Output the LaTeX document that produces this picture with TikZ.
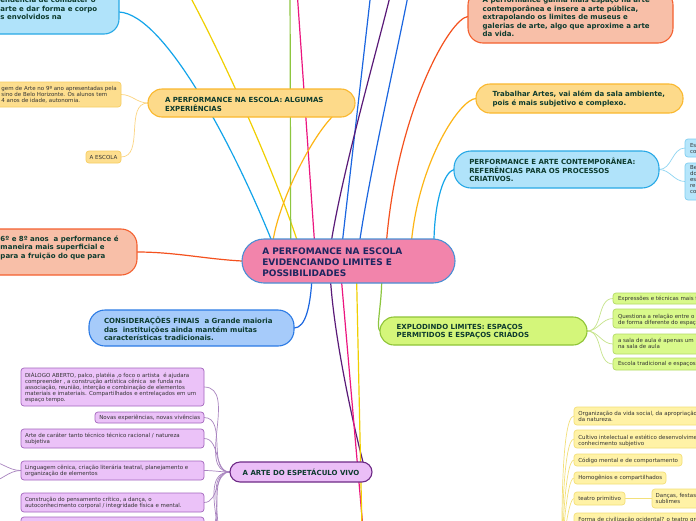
\documentclass[tikz,border=0pt]{standalone}
\usepackage{fontspec}
\setmainfont{DejaVu Sans}
\usetikzlibrary{backgrounds}
\definecolor{cyF}{HTML}{B0E3FA}\definecolor{cyD}{HTML}{28A9E6}
\definecolor{orF}{HTML}{FDDA8A}\definecolor{orD}{HTML}{FAB82E}
\definecolor{orsF}{HTML}{FDDE8E}\definecolor{orsD}{HTML}{F7CE63}
\definecolor{saF}{HTML}{F8BFA8}\definecolor{saD}{HTML}{F4602F}
\definecolor{blF}{HTML}{A6CBFA}\definecolor{blD}{HTML}{2C7BE5}
\definecolor{ceF}{HTML}{F284AB}\definecolor{ceD}{HTML}{4A8FD5}
\definecolor{grF}{HTML}{D4F67A}\definecolor{grD}{HTML}{8FC437}
\definecolor{grsF}{HTML}{D9F98B}\definecolor{grsD}{HTML}{B3DA65}
\definecolor{cysF}{HTML}{B6E6FB}\definecolor{cysD}{HTML}{7FCDF0}
\definecolor{puF}{HTML}{EBBEF7}\definecolor{puD}{HTML}{6E2A86}
\definecolor{pusF}{HTML}{EBC2F8}\definecolor{pusD}{HTML}{A366BD}
\definecolor{yeF}{HTML}{FFF2A6}\definecolor{yeD}{HTML}{F3DF78}
\definecolor{lCy}{HTML}{12A4EA}\definecolor{lYe}{HTML}{F0CF00}
\definecolor{lGr}{HTML}{8DC63F}\definecolor{lMa}{HTML}{EC167F}
\definecolor{lBl}{HTML}{1B66E0}\definecolor{lPu}{HTML}{5A1A78}
\definecolor{lRe}{HTML}{F4511E}\definecolor{lOr}{HTML}{FDB515}
\definecolor{lOrs}{HTML}{FCD582}\definecolor{lGrs}{HTML}{C6E48A}
\definecolor{lCys}{HTML}{8ED5F2}\definecolor{lPus}{HTML}{A985C0}
\definecolor{lYes}{HTML}{F3E07A}
\definecolor{tGr}{HTML}{0D3B2E}\definecolor{tNa}{HTML}{1D2660}
\definecolor{tSm}{HTML}{333333}
\newcommand{\mmC}{\fontsize{9}{11}\selectfont\bfseries}
\newcommand{\mmB}{\fontsize{7}{8.5}\selectfont\bfseries}
\newcommand{\mmS}{\fontsize{5.5}{6.1}\selectfont}
\tikzset{
  box/.style={inner sep=0pt, outer sep=0pt, line width=1.1pt},
  sbox/.style={inner sep=0pt, outer sep=0pt, line width=0.7pt, rounded corners=3pt},
  tx/.style={inner sep=0pt, outer sep=0pt, align=left, anchor=west},
  btx/.style={tx, font=\mmB, text=tGr},
  stx/.style={tx, font=\mmS, text=tSm},
  link/.style={line width=1.2pt},
  slink/.style={line width=0.7pt},
}
\begin{document}
\begin{tikzpicture}[x=1pt,y=-1pt]
\useasboundingbox (0,0) rectangle (696,520);
\begin{pgfonlayer}{background}
\fill[white] (0,0) rectangle (696,520);
\end{pgfonlayer}
\clip (0,0) rectangle (696,520);

% ---------- main boxes
\node[box, fill=cyF, draw=cyD, rounded corners=15pt, minimum width=135pt, minimum height=51pt] (tl) at (51.5,8.5) {};
\node[btx] (tlT) at (0.5,8.3) {endência de combater o\\arte e dar forma e corpo\\s envolvidos na};

\node[box, fill=orF, draw=orD, rounded corners=14pt, minimum width=207pt, minimum height=28pt] (alg) at (251.5,103) {};
\node[btx] (algT) at (165,104.2) {A PERFORMANCE NA ESCOLA: ALGUMAS\\EXPERIÊNCIAS};

\node[sbox, fill=orsF, draw=orsD, minimum width=131pt, minimum height=25pt] (gem) at (55.5,94.5) {};
\node[stx] (gemT) at (1.5,95) {gem de Arte no 9º ano apresentadas pela\\sino de Belo Horizonte. Os alunos tem\\4 anos de idade, autonomia.};
\node[sbox, fill=orsF, draw=orsD, minimum width=35pt, minimum height=12pt] (esc) at (103.5,157) {};
\node[stx, anchor=center] (escT) at (103.5,157) {A ESCOLA};

\node[box, fill=saF, draw=saD, rounded corners=16pt, minimum width=157pt, minimum height=46pt] (sal) at (58.5,252) {};
\node[btx] (salT) at (0.5,247.5) {6º e 8º anos\ \ a performance é\\maneira mais superficial e\\para a fruição do que para};

\node[box, fill=blF, draw=blD, rounded corners=16pt, minimum width=205pt, minimum height=36pt] (con) at (191.5,328) {};
\node[btx] (conT) at (104,329) {CONSIDERAÇÕES FINAIS\ \ a Grande maioria\\das\ \ instituições ainda mantém muitas\\características tradicionais.};

\node[box, fill=ceF, draw=ceD, rounded corners=22pt, minimum width=213pt, minimum height=44pt] (cen) at (348.5,261) {};
\node[tx, font=\mmC, text=tNa] (cenT) at (262.3,261.9) {A PERFOMANCE NA ESCOLA\\EVIDENCIANDO LIMITES E\\POSSIBILIDADES};

\node[box, fill=puF, draw=puD, rounded corners=10pt, minimum width=142pt, minimum height=20pt] (arte) at (301,472) {};
\node[btx, anchor=center] (arteT) at (301,472.3) {A ARTE DO ESPETÁCULO VIVO};

\node[box, fill=grF, draw=grD, rounded corners=14pt, minimum width=207pt, minimum height=28pt] (exp) at (483.5,331) {};
\node[btx] (expT) at (396.7,331.7) {EXPLODINDO LIMITES: ESPAÇOS\\PERMITIDOS E ESPAÇOS CRIADOS};

\node[box, fill=cyF, draw=cyD, rounded corners=17pt, minimum width=205pt, minimum height=37pt] (pac) at (556.5,169.5) {};
\node[btx] (pacT) at (469.3,170) {PERFORMANCE E ARTE CONTEMPORÂNEA:\\REFERÊNCIAS PARA OS PROCESSOS\\CRIATIVOS.};

\node[box, fill=orF, draw=orD, rounded corners=14pt, minimum width=207pt, minimum height=29pt] (trab) at (579.5,98.5) {};
\node[btx] (trabT) at (492.7,99) {Trabalhar Artes, vai além da sala ambiente,\\pois é mais subjetivo e complexo.};

\node[box, fill=saF, draw=saD, rounded corners=15pt, minimum width=205pt, minimum height=53pt] (gan) at (570.5,16.5) {};
\node[btx] (ganT) at (482.7,17.1) {A performance ganha mais espaço na arte\\contemporânea e insere a arte pública,\\extrapolando os limites de museus e\\galerias de arte, algo que aproxime a arte\\da vida.};

% ---------- cyan children
\node[sbox, fill=cysF, draw=cysD, minimum width=45pt, minimum height=18pt] (cy1) at (707.5,148) {};
\node[stx] (cy1T) at (690,148.7) {Es\\co};
\node[sbox, fill=cysF, draw=cysD, minimum width=45pt, minimum height=37pt] (cy2) at (707.5,181.5) {};
\node[stx] (cy2T) at (690,179.5) {Be\\do\\es\\re\\co};

% ---------- green children
\node[sbox, fill=grsF, draw=grsD, minimum width=117pt, minimum height=11pt] (g1) at (671.5,298.5) {};
\node[stx] (g1T) at (618,298.5) {Expressões e técnicas mais f};
\node[sbox, fill=grsF, draw=grsD, minimum width=117pt, minimum height=19pt] (g2) at (671.5,318.5) {};
\node[stx] (g2T) at (618,319.7) {Questiona a relação entre o\\de forma diferente do espaç};
\node[sbox, fill=grsF, draw=grsD, minimum width=117pt, minimum height=20pt] (g3) at (671.5,344) {};
\node[stx] (g3T) at (618,343) {a sala de aula é apenas um\\na sala de aula};
\node[sbox, fill=grsF, draw=grsD, minimum width=117pt, minimum height=12pt] (g4) at (671.5,364) {};
\node[stx] (g4T) at (618,364) {Escola tradicional e espaços};

% ---------- purple children
\node[sbox, fill=pusF, draw=pusD, minimum width=183pt, minimum height=38pt] (p1) at (112.5,387) {};
\node[stx] (p1T) at (25,387.7) {DIÁLOGO ABERTO, palco, platéia ,o foco o artista\ \ é ajudara\\compreender , a construção artística cênica\ \ se funda na\\associação, reunião, interção e combinação de elementos\\materiais e imateriais. Compartilhados e entrelaçados em um\\espaço tempo.};
\node[sbox, fill=pusF, draw=pusD, minimum width=109pt, minimum height=11pt] (p2) at (149.5,417.5) {};
\node[stx] (p2T) at (99.3,417.5) {Novas experiências, novas vivências};
\node[sbox, fill=pusF, draw=pusD, minimum width=183pt, minimum height=19pt] (p3) at (112.5,438.5) {};
\node[stx] (p3T) at (25,439) {Arte de caráter tanto técnico técnico racional / natureza\\subjetiva};
\node[sbox, fill=pusF, draw=pusD, minimum width=183pt, minimum height=19pt] (p4) at (112.5,470.5) {};
\node[stx] (p4T) at (25,471.2) {Linguagem cênica, criação literária teatral, planejamento e\\organização de elementos};
\node[sbox, fill=pusF, draw=pusD, minimum width=183pt, minimum height=19pt] (p5) at (112.5,502.5) {};
\node[stx] (p5T) at (25,502.8) {Construção do pensamento crítico, a dança, o\\autoconhecimento corporal / integridade física e mental.};
\node[sbox, fill=pusF, draw=pusD, minimum width=183pt, minimum height=28pt] (p6) at (112.5,531) {};

% ---------- yellow children
\node[sbox, fill=yeF, draw=yeD, minimum width=146pt, minimum height=18pt] (y1) at (647,416) {};
\node[stx] (y1T) at (578.3,416.2) {Organização da vida social, da apropriação\\da natureza.};
\node[sbox, fill=yeF, draw=yeD, minimum width=146pt, minimum height=18pt] (y2) at (647,439) {};
\node[stx] (y2T) at (578.3,440.5) {Cultivo intelectual e estético desenvolvimento\\conhecimento subjetivo};
\node[sbox, fill=yeF, draw=yeD, minimum width=108pt, minimum height=12pt] (y3) at (628,460) {};
\node[stx] (y3T) at (578.3,460.5) {Código mental e de comportamento};
\node[sbox, fill=yeF, draw=yeD, minimum width=92pt, minimum height=12pt] (y4) at (620,478) {};
\node[stx] (y4T) at (578.3,477.8) {Homogênios e compartilhados};
\node[sbox, fill=yeF, draw=yeD, minimum width=51pt, minimum height=13pt] (y5) at (599.5,498.5) {};
\node[stx] (y5T) at (578.3,499) {teatro primitivo};
\node[sbox, fill=yeF, draw=yeD, minimum width=68pt, minimum height=19pt] (y6) at (686,498.5) {};
\node[stx] (y6T) at (655.7,498.7) {Danças, festas\\sublimes};
\node[sbox, fill=yeF, draw=yeD, minimum width=146pt, minimum height=27pt] (y7) at (647,526.5) {};
\node[stx] (y7T) at (578.3,519.5) {Forma de civilização ocidental? o teatro grego};

% ---------- off-canvas ends
\coordinate (oYe) at (181,-20);
\coordinate (oGr) at (290,-20);
\coordinate (oMa) at (296.3,-20);
\coordinate (oBl1) at (372.3,-20);
\coordinate (oPu) at (394,-20);
\coordinate (oBl2) at (411,-20);
\coordinate (oMaB) at (364,540);
\coordinate (oYeB) at (362.2,540);
\coordinate (pX1) at (204,552);
\coordinate (pX2) at (204,575);
\coordinate (pL1) at (-12,461);
\coordinate (pL2) at (-12,482);
\coordinate (yR) at (562,560);

\begin{pgfonlayer}{background}
% top connectors
\draw[link, lCy] ([yshift=-3.5pt]tl.east) .. controls (165,14) and (235,150) .. ([xshift=29pt]cen.north west);
\draw[link, lYe] (oYe) .. controls (215,40) and (270,160) .. ([xshift=54.7pt]cen.north west);
\draw[link, lGr] (oGr) -- ([xshift=48.7pt]cen.north west);
\draw[link, lMa] (oMa) -- ([xshift=72.3pt]cen.north west);
\draw[link, lBl] (oBl1) -- ([xshift=100.7pt]cen.north west);
\draw[link, lPu] (oPu) .. controls (380,40) and (345,160) .. ([xshift=89.7pt]cen.north west);
\draw[link, lBl] (oBl2) .. controls (400,40) and (372,160) .. ([xshift=118pt]cen.north west);
\draw[link, lRe] (gan.west) .. controls (450,18) and (398,110) .. ([xshift=144.7pt]cen.north west);
\draw[link, lOr] (trab.west) .. controls (460,99) and (420,160) .. ([xshift=169.7pt]cen.north west);
\draw[link, lCy] (pac.west) .. controls (444,172) and (435,200) .. ([xshift=192pt]cen.north west);
\draw[link, lOr] ([xshift=-23pt]alg.south east) .. controls (310,140) and (280,200) .. ([xshift=31.3pt]cen.north west);
\draw[link, lRe] (sal.east) .. controls (175,252) and (205,259) .. (cen.west);
% bottom connectors
\draw[link, lBl] ([xshift=69.7pt]cen.south west) .. controls (310,305) and (306,328) .. (con.east);
\draw[link, lGr] ([xshift=139.7pt]cen.south west) .. controls (381,308) and (376,328) .. (exp.west);
\draw[link, lPu] ([xshift=88.7pt]cen.south west) .. controls (335,340) and (352,420) .. ([xshift=-9pt]arte.north east);
\draw[link, lMa] ([xshift=99.7pt]cen.south west) -- (oMaB);
\draw[link, lYe] ([xshift=114.7pt]cen.south west) -- (oYeB);
% child connectors
\foreach \c in {gem,esc} \draw[slink, lOrs] (alg.west) to[out=180,in=0] (\c.east);
\foreach \c in {p1,p2,p3,p4,p5,p6,pX1,pX2} \draw[slink, lPus] (arte.west) to[out=180,in=0] (\c.east);
\foreach \c in {pL1,pL2} \draw[slink, lPus] (p4.west) to[out=180,in=0] (\c);
\foreach \c in {g1,g2,g3,g4} \draw[slink, lGrs] (exp.east) to[out=0,in=180] (\c.west);
\foreach \c in {cy1,cy2} \draw[slink, lCys] (pac.east) to[out=0,in=180] (\c.west);
\foreach \c in {y1,y2,y3,y4,y5,y7} \draw[slink, lYes] (yR) to[out=90,in=180,looseness=0.25] (\c.west);
\draw[slink, lYes] (y5.east) -- (y6.west);
\end{pgfonlayer}
\end{tikzpicture}
\end{document}
